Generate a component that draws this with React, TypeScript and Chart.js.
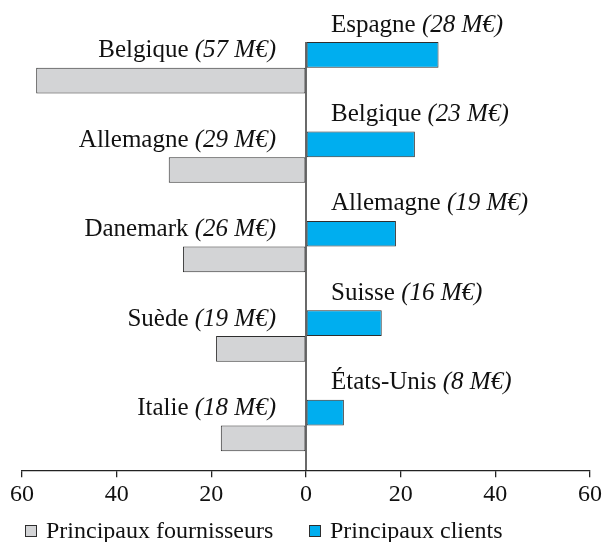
import React, { useEffect, useRef } from "react";
import { Chart, registerables } from "chart.js";

Chart.register(...registerables);

const rows = ["1", "2", "3", "4", "5"];
const clientNames = ["Espagne", "Belgique", "Allemagne", "Suisse", "États-Unis"];
const clientValues = [28, 23, 19, 16, 8];
const supplierNames = ["Belgique", "Allemagne", "Danemark", "Suède", "Italie"];
const supplierValues = [57, 29, 26, 19, 18];
const tickValues = [-60, -40, -20, 0, 20, 40, 60];
const legendLabels = ["Principaux fournisseurs", "Principaux clients"];

const BLUE = "#00AEEF";
const GRAY = "#D3D4D6";
const EDGE = "#2e2e2e";
const FONT = "Liberation Serif";
const FS = 24;
const LFS = 25;

const labelPlugin = {
  id: "barLabels",
  beforeDatasetsDraw(chart: any) {
    const { ctx, chartArea } = chart;
    const xs = chart.scales.x;
    const x0 = xs.getPixelForValue(0);
    const first = chart.getDatasetMeta(0).data[0];
    if (!first) return;
    const top = first.y - first.height / 2;
    ctx.save();
    ctx.strokeStyle = "#1a1a1a";
    ctx.lineWidth = 1.3;
    ctx.beginPath();
    ctx.moveTo(x0, top);
    ctx.lineTo(x0, chartArea.bottom);
    ctx.stroke();
    ctx.restore();
  },
  afterDatasetsDraw(chart: any) {
    const { ctx } = chart;
    const xs = chart.scales.x;
    const x0 = xs.getPixelForValue(0);
    const draw = (name: string, val: number, bar: any, right: boolean) => {
      const regular = name + " ";
      const italic = "(" + val + " M€)";
      ctx.font = `${LFS}px "${FONT}"`;
      const w1 = ctx.measureText(regular).width;
      ctx.font = `italic ${LFS}px "${FONT}"`;
      const w2 = ctx.measureText(italic).width;
      const baseY = bar.y - bar.height / 2 - 10.5;
      const startX = right ? x0 - 30 - (w1 + w2) : x0 + 25;
      ctx.fillStyle = "#111";
      ctx.textBaseline = "alphabetic";
      ctx.textAlign = "left";
      ctx.font = `${LFS}px "${FONT}"`;
      ctx.fillText(regular, startX, baseY);
      ctx.font = `italic ${LFS}px "${FONT}"`;
      ctx.fillText(italic, startX + w1, baseY);
    };
    ctx.save();
    chart.getDatasetMeta(0).data.forEach((bar: any, i: number) =>
      draw(clientNames[i], clientValues[i], bar, false)
    );
    chart.getDatasetMeta(1).data.forEach((bar: any, i: number) =>
      draw(supplierNames[i], supplierValues[i], bar, true)
    );
    ctx.restore();
  },
};

export default function App() {
  const ref = useRef<HTMLCanvasElement | null>(null);
  useEffect(() => {
    if (!ref.current) return;
    const chart = new Chart(ref.current, {
      type: "bar",
      data: {
        labels: rows,
        datasets: [
          {
            label: legendLabels[1],
            data: clientValues,
            backgroundColor: BLUE,
            borderColor: EDGE,
            borderWidth: 1,
            borderSkipped: false,
            categoryPercentage: 0.574,
            barPercentage: 1,
          },
          {
            label: legendLabels[0],
            data: supplierValues.map((v) => -v),
            backgroundColor: GRAY,
            borderColor: EDGE,
            borderWidth: 1,
            borderSkipped: false,
            categoryPercentage: 0.574,
            barPercentage: 1,
          },
        ],
      },
      options: {
        indexAxis: "y",
        animation: false,
        responsive: true,
        maintainAspectRatio: false,
        layout: { padding: { left: 22, right: 18, top: 23, bottom: 30 } },
        plugins: { legend: { display: false }, tooltip: { enabled: false } },
        scales: {
          y: { display: false },
          x: {
            min: tickValues[0],
            max: tickValues[tickValues.length - 1],
            afterBuildTicks: (axis: any) => {
              axis.ticks = tickValues.map((v) => ({ value: v }));
            },
            grid: { display: true, drawOnChartArea: false, drawTicks: true, tickLength: 7, color: "#222", lineWidth: 1.3 },
            border: { display: true, color: "#222", width: 1.3 },
            ticks: {
              padding: 3,
              color: "#111",
              font: { family: FONT, size: FS },
              maxRotation: 0,
              callback: (v: any) => String(Math.abs(Number(v))),
            },
          },
        },
      },
      plugins: [labelPlugin],
    });
    return () => chart.destroy();
  }, []);

  const legendItem = (label: string, color: string, left: number) => (
    <div
      key={label}
      style={{
        position: "absolute",
        left,
        top: 516,
        height: 28,
        display: "flex",
        alignItems: "center",
        fontFamily: FONT,
        fontSize: FS,
        color: "#111",
        whiteSpace: "nowrap",
      }}
    >
      <span
        style={{
          display: "inline-block",
          width: 10,
          height: 10,
          background: color,
          border: `1px solid ${EDGE}`,
          marginRight: 9,
          marginTop: 2,
        }}
      />
      <span>{label}</span>
    </div>
  );

  return (
    <div style={{ position: "fixed", left: 0, top: 0, width: 608, height: 542, background: "#fff" }}>
      <canvas ref={ref} />
      {legendItem(legendLabels[0], GRAY, 25)}
      {legendItem(legendLabels[1], BLUE, 309)}
    </div>
  );
}
